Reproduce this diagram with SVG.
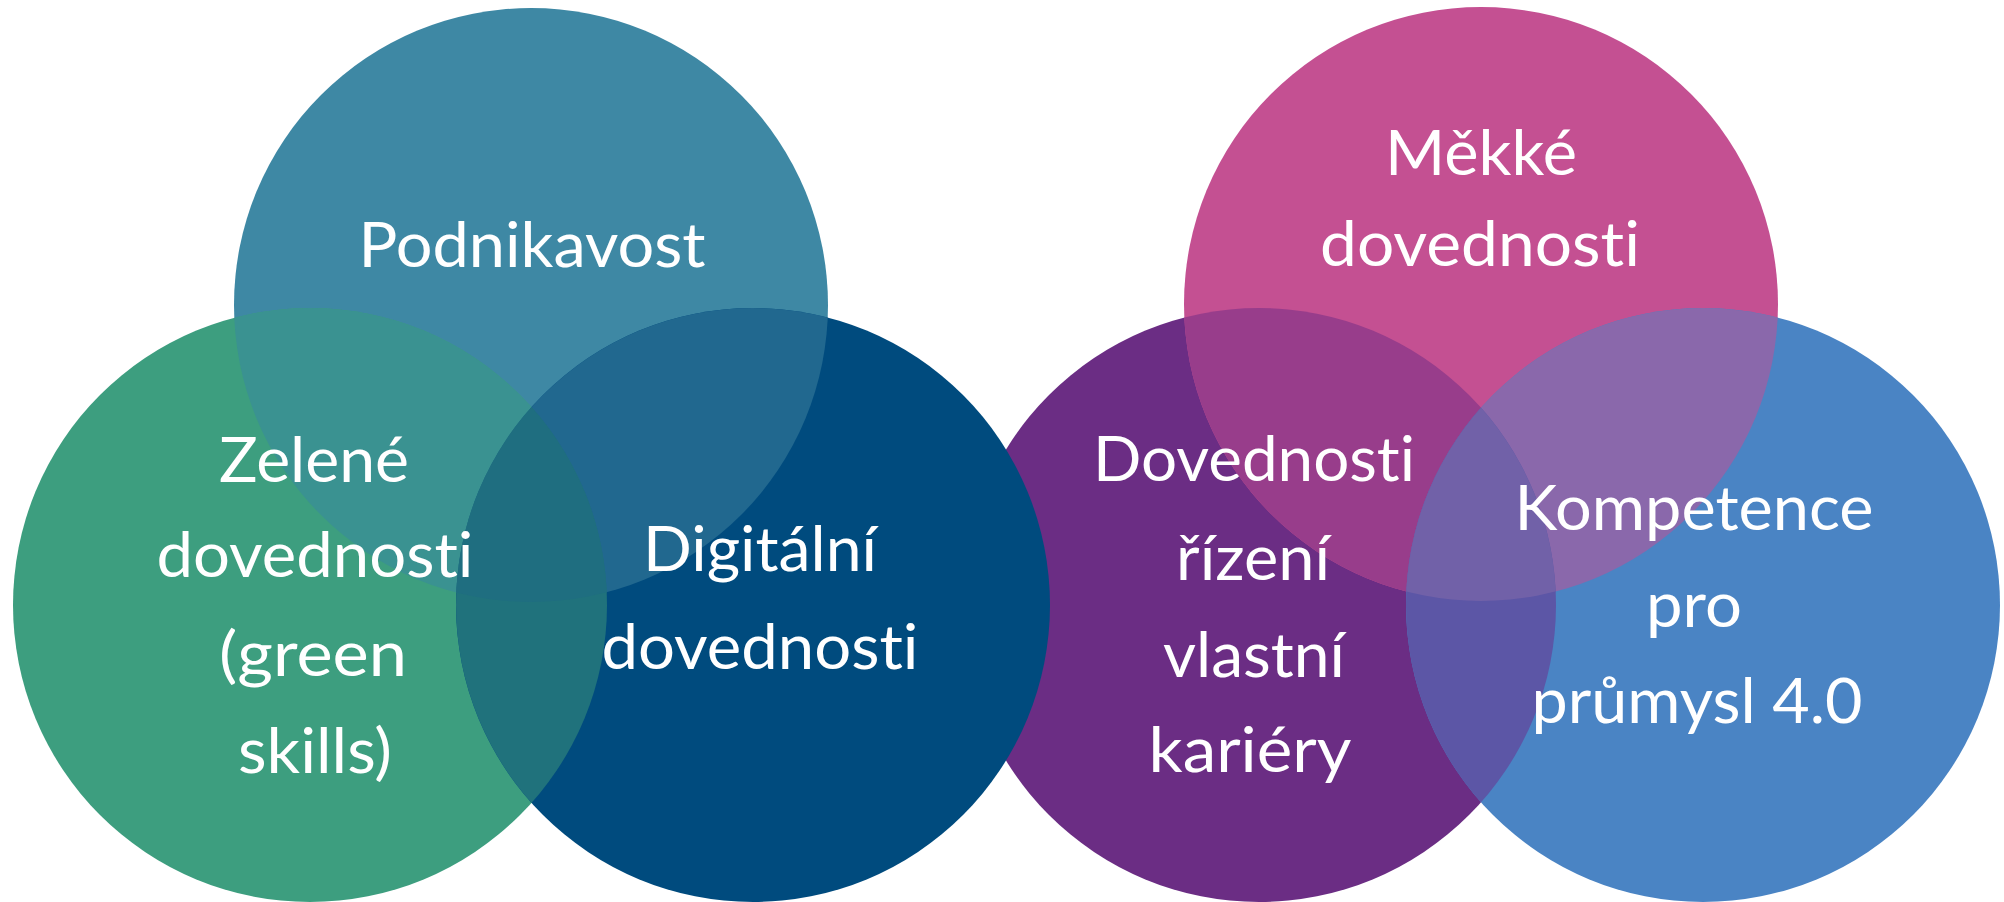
<svg xmlns="http://www.w3.org/2000/svg" width="2004" height="902" viewBox="0 0 2004 902">
<style>
.t{font-family:Lato,"Open Sans","Liberation Sans",sans-serif;font-size:61px;fill:#ffffff;text-anchor:middle;font-variant-ligatures:none;font-feature-settings:"liga" 0,"clig" 0}
</style>
<defs>
<clipPath id="cPod"><circle cx="531" cy="305" r="297"/></clipPath>
<clipPath id="cGreen"><circle cx="310" cy="605" r="297"/></clipPath>
<clipPath id="cDig"><circle cx="753" cy="605" r="297"/></clipPath>
<clipPath id="cPur"><circle cx="1259" cy="605" r="297"/></clipPath>
<clipPath id="cPink"><circle cx="1481" cy="304" r="297"/></clipPath>
<clipPath id="cBlue"><circle cx="1703" cy="605" r="297"/></clipPath>
</defs>
<rect width="2004" height="902" fill="#ffffff"/>

<!-- right group (under the left group) -->
<g id="shapes-right">
<circle cx="1259" cy="605" r="297" fill="#6b2d84"/>
<circle cx="1481" cy="304" r="297" fill="#c45092"/>
<circle cx="1703" cy="605" r="297" fill="#4a84c4"/>
<g clip-path="url(#cPur)"><circle cx="1481" cy="304" r="297" fill="#983d8b"/></g>
<g clip-path="url(#cPink)"><circle cx="1703" cy="605" r="297" fill="#8a68ab"/></g>
<g clip-path="url(#cPur)"><circle cx="1703" cy="605" r="297" fill="#5c56a6"/></g>
<g clip-path="url(#cPur)"><g clip-path="url(#cPink)"><circle cx="1703" cy="605" r="297" fill="#7161a8"/></g></g>
</g>

<!-- left group -->
<g id="shapes-left">
<circle cx="531" cy="305" r="297" fill="#3e88a4"/>
<circle cx="310" cy="605" r="297" fill="#3d9e7f"/>
<circle cx="753" cy="605" r="297" fill="#004b7e"/>
<g clip-path="url(#cPod)"><circle cx="310" cy="605" r="297" fill="#3a9291"/></g>
<g clip-path="url(#cPod)"><circle cx="753" cy="605" r="297" fill="#21688f"/></g>
<g clip-path="url(#cGreen)"><circle cx="753" cy="605" r="297" fill="#20727c"/></g>
<g clip-path="url(#cPod)"><g clip-path="url(#cGreen)"><circle cx="753" cy="605" r="297" fill="#1f6e80"/></g></g>
</g>

<g id="node-podnikavost">
<text class="t" x="532" y="267" textLength="347" lengthAdjust="spacingAndGlyphs">Podnikavost</text>
</g>
<g id="node-zelene">
<text class="t" x="314" y="482" textLength="190" lengthAdjust="spacingAndGlyphs">Zelené</text>
<text class="t" x="315" y="577" textLength="317" lengthAdjust="spacingAndGlyphs">dovednosti</text>
<text class="t" x="313" y="676" textLength="188" lengthAdjust="spacingAndGlyphs">(green</text>
<text class="t" x="315" y="773" textLength="154" lengthAdjust="spacingAndGlyphs">skills)</text>
</g>
<g id="node-digitalni">
<text class="t" x="760" y="571" textLength="234" lengthAdjust="spacingAndGlyphs">Digitální</text>
<text class="t" x="760" y="669" textLength="317" lengthAdjust="spacingAndGlyphs">dovednosti</text>
</g>
<g id="node-rizeni">
<text class="t" x="1254" y="481" textLength="322" lengthAdjust="spacingAndGlyphs">Dovednosti</text>
<text class="t" x="1253" y="580" textLength="154" lengthAdjust="spacingAndGlyphs">řízení</text>
<text class="t" x="1254" y="677" textLength="182" lengthAdjust="spacingAndGlyphs">vlastní</text>
<text class="t" x="1250" y="772" textLength="203" lengthAdjust="spacingAndGlyphs">kariéry</text>
</g>
<g id="node-mekke">
<text class="t" x="1481" y="175" textLength="192" lengthAdjust="spacingAndGlyphs">Měkké</text>
<text class="t" x="1480" y="266" textLength="320" lengthAdjust="spacingAndGlyphs">dovednosti</text>
</g>
<g id="node-kompetence">
<text class="t" x="1694" y="530" textLength="359" lengthAdjust="spacingAndGlyphs">Kompetence</text>
<text class="t" x="1694" y="627" textLength="96" lengthAdjust="spacingAndGlyphs">pro</text>
<text class="t" x="1697" y="723" textLength="331" lengthAdjust="spacingAndGlyphs">průmysl 4.0</text>
</g>
<g id="connectors"></g>
</svg>
